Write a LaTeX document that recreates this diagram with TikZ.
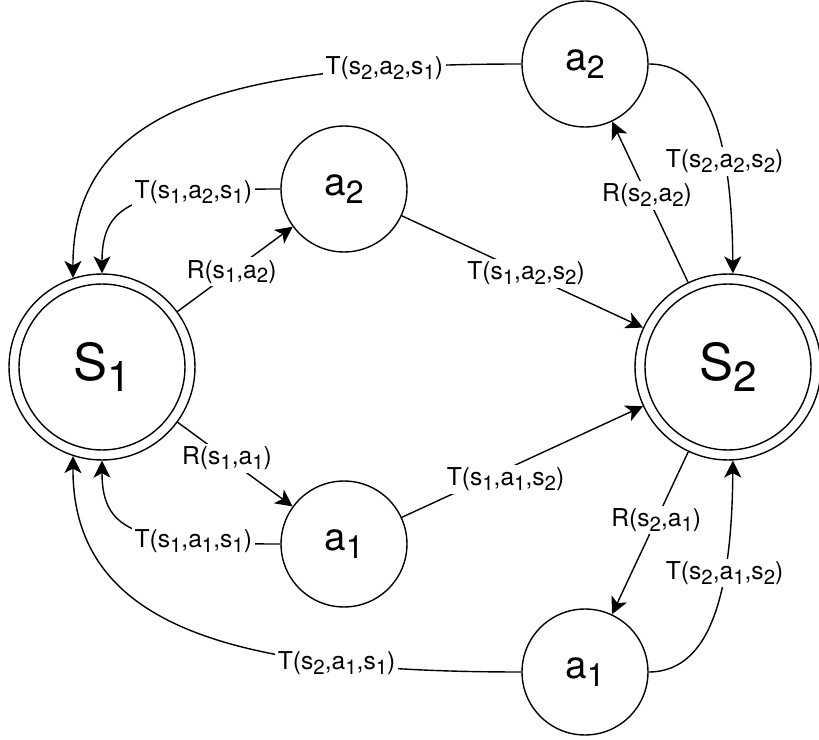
\documentclass[tikz,border=0pt]{standalone}
\usepackage{fontspec}
\usepackage{graphicx}
\setmainfont{TeX Gyre Heros}
\usetikzlibrary{arrows.meta}

% lowered, slightly smaller index
\newcommand{\dn}[1]{\raisebox{-.2em}{\scalebox{.83}{#1}}}

\begin{document}
\begin{tikzpicture}[
    x=0.02cm, y=-0.02cm,
    >={Stealth[length=0.34cm,width=0.34cm,inset=0.09cm]},
    line width=0.8pt,
    state/.style={
        draw,
        circle,
        inner sep=0pt,
        minimum size=3.72cm,
        font=\fontsize{29}{31}\selectfont
    },
    inring/.style={
        draw,
        circle,
        inner sep=0pt,
        minimum size=3.32cm
    },
    action/.style={
        draw,
        circle,
        inner sep=0pt,
        minimum size=2.52cm,
        font=\fontsize{22}{24}\selectfont
    },
    lbl/.style={
        fill=white,
        inner sep=1.5pt,
        font=\fontsize{14}{16}\selectfont
    }
]

\useasboundingbox (0,0) rectangle (819,740);

% states
\node[state] (S1) at (102,367) {S\dn{1}};
\node[inring] (S1in) at (S1.center) {};
\node[state] (S2) at (728,367) {S\dn{2}};
\node[inring] (S2in) at (S2.center) {};

% actions
\node[action] (a2top) at (585,64) {a\dn{2}};
\node[action] (a2mid) at (344,189) {a\dn{2}};
\node[action] (a1mid) at (344,544) {a\dn{1}};
\node[action] (a1bot) at (585,672) {a\dn{1}};

% rewards
\draw[->] (S1) -- (a2mid) node[lbl, pos=0.47] {R(s\dn{1},a\dn{2})};
\draw[->] (S1) -- (a1mid) node[lbl, pos=0.43] {R(s\dn{1},a\dn{1})};
\draw[->] (S2) -- (a2top) node[lbl, pos=0.54] {R(s\dn{2},a\dn{2})};
\draw[->] (S2) -- (a1bot) node[lbl, pos=0.42] {R(s\dn{2},a\dn{1})};

% transitions s1 -> s2
\draw[->] (a2mid) -- (S2) node[lbl, pos=0.515] {T(s\dn{1},a\dn{2},s\dn{2})};
\draw[->] (a1mid) -- (S2) node[lbl, pos=0.43, yshift=-0.2cm] {T(s\dn{1},a\dn{1},s\dn{2})};

% transitions back to s1
\draw[->] (a2mid.west) .. controls (140,189) and (102,200) .. (S1.90)
    node[lbl, pos=0.25] {T(s\dn{1},a\dn{2},s\dn{1})};
\draw[->] (a1mid.west) .. controls (140,544) and (102,534) .. (S1.-90)
    node[lbl, pos=0.25] {T(s\dn{1},a\dn{1},s\dn{1})};
\draw[->] (a2top.west) .. controls (250,64) and (72,100) .. (S1.108)
    node[lbl, pos=0.18] {T(s\dn{2},a\dn{2},s\dn{1})};
\draw[->] (a1bot.west) .. controls (250,672) and (72,634) .. (S1.-108)
    node[lbl, pos=0.25] {T(s\dn{2},a\dn{1},s\dn{1})};

% self transitions of s2
\draw[->] (a2top.east) .. controls (715,64) and (732,154) .. (S2.87)
    node[lbl, pos=0.65] {T(s\dn{2},a\dn{2},s\dn{2})};
\draw[->] (a1bot.east) .. controls (715,672) and (732,580) .. (S2.-87)
    node[lbl, pos=0.65] {T(s\dn{2},a\dn{1},s\dn{2})};

\end{tikzpicture}
\end{document}
